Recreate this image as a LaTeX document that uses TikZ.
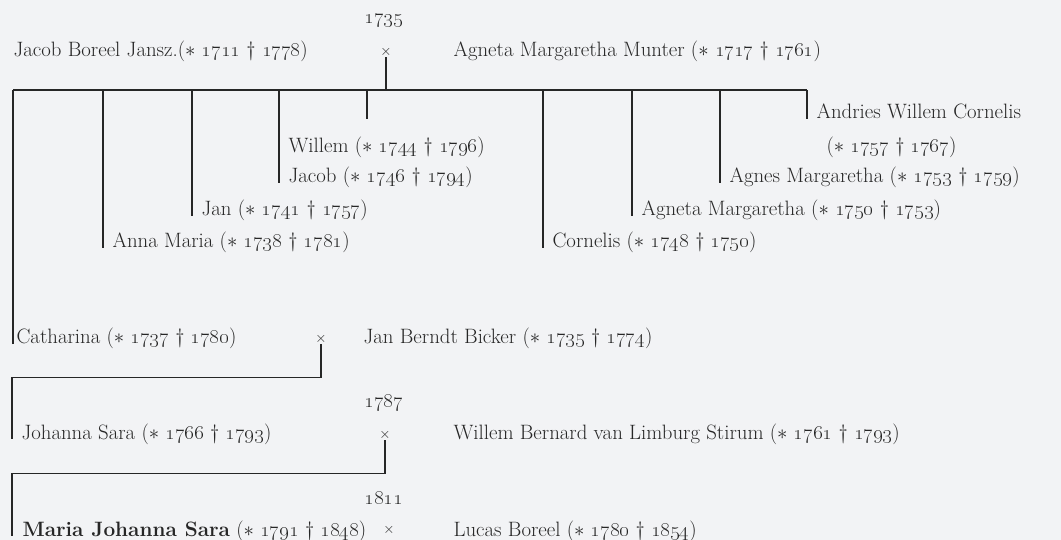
\documentclass[tikz,border=0pt]{standalone}
\usepackage{tikz}
\definecolor{paper}{HTML}{F2F3F5}
\definecolor{ink}{HTML}{262626}
\newcommand{\lifespan}[2]{($\ast$ \oldstylenums{#1} \textdagger{} \oldstylenums{#2})}

\begin{document}
\begin{tikzpicture}[x=1pt,y=-1pt,color=ink,line width=1.2pt,
    every node/.style={font=\fontsize{20.8}{24}\selectfont,inner sep=0pt},
    person/.style={anchor=base west,inner xsep=9pt},
    wed/.style={font=\fontsize{14}{16}\selectfont}]
  \useasboundingbox (0,0) rectangle (1061,540);
  \fill[paper] (0,0) rectangle (1061,540);
  \coordinate (bar) at (0,90);
  \coordinate (stub) at (367,119);

  \node (wed1) at (384,21) {\oldstylenums{1735}};
  \node[wed] (x1) at (386,52) {$\times$};
  \node[anchor=base west] (vader) at (13,57) {Jacob Boreel Jansz.\lifespan{1711}{1778}};
  \node[anchor=base west] (moeder) at (453,57) {Agneta Margaretha Munter \lifespan{1717}{1761}};

  \node[person] (willem) at (279,153) {Willem \lifespan{1744}{1796}};
  \node[person] (jacob) at (279,183) {Jacob \lifespan{1746}{1794}};
  \node[person] (jan) at (192,216) {Jan \lifespan{1741}{1757}};
  \node[person] (anna) at (103,248) {Anna Maria \lifespan{1738}{1781}};
  \node[person] (cornelis) at (543,248) {Cornelis \lifespan{1748}{1750}};
  \node[person] (agneta) at (632,216) {Agneta Margaretha \lifespan{1750}{1753}};
  \node[person] (agnes) at (720,183) {Agnes Margaretha \lifespan{1753}{1759}};
  \node[person] (andries) at (807,119) {Andries Willem Cornelis};
  \node[anchor=base west] (andriesyr) at (826,153) {\lifespan{1757}{1767}};

  \node[person,inner xsep=3pt] (catharina) at (13,344) {Catharina \lifespan{1737}{1780}};
  \node[wed] (x2) at (321,339) {$\times$};
  \node[anchor=base west] (bicker) at (363,343) {Jan Berndt Bicker \lifespan{1735}{1774}};

  \node[person] (johanna) at (12,439) {Johanna Sara \lifespan{1766}{1793}};
  \node (wed3) at (384,403) {\oldstylenums{1787}};
  \node[wed] (x3) at (385,435) {$\times$};
  \node[anchor=base west] (stirum) at (453,439) {Willem Bernard van Limburg Stirum \lifespan{1761}{1793}};

  \node[person,inner xsep=10pt] (maria) at (12,536) {\textbf{Maria Johanna Sara} \lifespan{1791}{1848}};
  \node (wed4) at (384,498) {\oldstylenums{1811}};
  \node[wed] (x4) at (389,530) {$\times$};
  \node[anchor=base west] (lucas) at (453,536) {Lucas Boreel \lifespan{1780}{1854}};

  \draw (x1.south) -- (x1.south |- bar);
  \draw (catharina.base west |- bar) -- (andries.base west |- bar);
  \foreach \k in {catharina,anna,jan,jacob,cornelis,agneta,agnes,andries}
    \draw (\k.base west) -- (\k.base west |- bar);
  \draw (stub) -- (stub |- bar);
  \draw (x2.south) -- ++(0,33) -| (johanna.base west);
  \draw (x3.south) -- ++(0,33) -| (maria.base west);
\end{tikzpicture}
\end{document}
